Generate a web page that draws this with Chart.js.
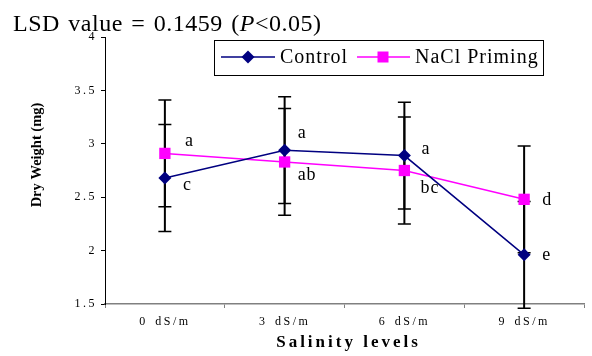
<!DOCTYPE html>
<html>
<head>
<meta charset="utf-8">
<script src="https://cdn.jsdelivr.net/npm/chart.js@4"></script>
<style>
  html, body { margin: 0; padding: 0; background: #fff; }
  canvas { display: block; }
</style>
</head>
<body>
<canvas id="chart" width="592" height="356"></canvas>
<script>
// Dry weight of seedlings under salinity, with and without NaCl priming
const salinity = ['0 dS/m', '3 dS/m', '6 dS/m', '9 dS/m'];
const control = [2.68, 2.94, 2.89, 1.96];
const naclPriming = [2.91, 2.83, 2.75, 2.48];
const controlErr = [0.5, 0.5, 0.5, 0.5];
const naclErr = [0.5, 0.5, 0.5, 0.5];
const controlLetters = ['c', 'a', 'a', 'e'];
const naclLetters = ['a', 'ab', 'bc', 'd'];
const yTicks = [1.5, 2, 2.5, 3, 3.5, 4];

const SERIF = '"Liberation Serif", "Times New Roman", serif';

// where each significance letter sits, relative to its point (left edge, baseline)
const letterOffsets = [
  [[18, 12], [13, -12], [17, -2], [18, 5]],   // control
  [[20, -7], [13, 18], [16, 22], [18, 6]]     // NaCl priming
];

const errorBars = {
  id: 'errorBars',
  beforeDatasetsDraw(chart) {
    const ctx = chart.ctx;
    ctx.letterSpacing = '0px';
    ctx.wordSpacing = '0px';
    const y = chart.scales.y;
    const errs = [controlErr, naclErr];
    ctx.save();
    ctx.strokeStyle = '#000';
    chart.data.datasets.forEach((ds, di) => {
      chart.getDatasetMeta(di).data.forEach((pt, i) => {
        const top = y.getPixelForValue(ds.data[i] + errs[di][i]);
        const bot = y.getPixelForValue(ds.data[i] - errs[di][i]);
        ctx.lineWidth = 2;
        ctx.beginPath();
        ctx.moveTo(pt.x, top);
        ctx.lineTo(pt.x, bot);
        ctx.stroke();
        ctx.lineWidth = 1.5;
        ctx.beginPath();
        ctx.moveTo(pt.x - 6.5, top); ctx.lineTo(pt.x + 6.5, top);
        ctx.moveTo(pt.x - 6.5, bot); ctx.lineTo(pt.x + 6.5, bot);
        ctx.stroke();
      });
    });
    ctx.restore();
  }
};

const annotations = {
  id: 'annotations',
  beforeDraw(chart) {
    // spaced-out tick lettering
    chart.ctx.letterSpacing = '2.5px';
    chart.ctx.wordSpacing = '2px';
  },
  afterDraw(chart) {
    const ctx = chart.ctx;
    const area = chart.chartArea;
    ctx.save();
    ctx.fillStyle = '#000';

    // LSD note in the top-left corner
    ctx.textBaseline = 'alphabetic';
    ctx.textAlign = 'left';
    ctx.letterSpacing = '0.5px';
    ctx.wordSpacing = '2px';
    let x = 13;
    [['LSD value = 0.1459 (', ''], ['P', 'italic '], ['<0.05)', '']].forEach(([t, st]) => {
      ctx.font = st + '24px ' + SERIF;
      ctx.fillText(t, x, 31);
      x += ctx.measureText(t).width;
    });
    ctx.wordSpacing = '0px';

    // significance letters
    ctx.font = '18px ' + SERIF;
    ctx.letterSpacing = '1px';
    [controlLetters, naclLetters].forEach((letters, di) => {
      chart.getDatasetMeta(di).data.forEach((pt, i) => {
        const [dx, dy] = letterOffsets[di][i];
        ctx.fillText(letters[i], pt.x + dx, pt.y + dy);
      });
    });

    // axis titles
    ctx.textAlign = 'center';
    ctx.textBaseline = 'middle';
    ctx.font = 'bold 17px ' + SERIF;
    ctx.letterSpacing = '3px';
    ctx.fillText('Salinity levels', (area.left + area.right) / 2 + 4, 343);
    ctx.save();
    ctx.translate(37, 155);
    ctx.rotate(-Math.PI / 2);
    ctx.font = 'bold 14.5px ' + SERIF;
    ctx.letterSpacing = '0px';
    ctx.fillText('Dry Weight (mg)', 0, 0);
    ctx.restore();

    // legend box
    ctx.letterSpacing = '1px';
    ctx.strokeStyle = '#000';
    ctx.lineWidth = 1;
    ctx.strokeRect(214.5, 40.5, 329, 35);
    const entries = [
      { x0: 221, x1: 275, mx: 248, text: 'Control' },
      { x0: 357, x1: 410, mx: 383, text: 'NaCl Priming' }
    ];
    ctx.textAlign = 'left';
    ctx.font = '20px ' + SERIF;
    entries.forEach((e, di) => {
      const ds = chart.data.datasets[di];
      const ly = 57;
      ctx.strokeStyle = ds.borderColor;
      ctx.lineWidth = 1.5;
      ctx.beginPath();
      ctx.moveTo(e.x0, ly);
      ctx.lineTo(e.x1, ly);
      ctx.stroke();
      ctx.fillStyle = ds.backgroundColor;
      ctx.beginPath();
      if (ds.pointStyle === 'rectRot') {
        ctx.moveTo(e.mx - 6.5, ly); ctx.lineTo(e.mx, ly - 6.5);
        ctx.lineTo(e.mx + 6.5, ly); ctx.lineTo(e.mx, ly + 6.5);
        ctx.closePath();
      } else {
        ctx.rect(e.mx - 5.5, ly - 5.5, 11, 11);
      }
      ctx.fill();
      ctx.fillStyle = '#000';
      ctx.fillText(e.text, e.x1 + 5, ly + 1);
    });
    ctx.restore();
  }
};

new Chart(document.getElementById('chart'), {
  type: 'line',
  data: {
    labels: salinity,
    datasets: [
      {
        label: 'Control',
        data: control,
        borderColor: '#000080',
        backgroundColor: '#000080',
        borderWidth: 1.5,
        pointStyle: 'rectRot',
        pointRadius: 6.5,
        pointBorderWidth: 0,
        tension: 0
      },
      {
        label: 'NaCl Priming',
        data: naclPriming,
        borderColor: '#FF00FF',
        backgroundColor: '#FF00FF',
        borderWidth: 1.5,
        pointStyle: 'rect',
        pointRadius: 8,
        pointBorderWidth: 0,
        tension: 0
      }
    ]
  },
  options: {
    responsive: false,
    animation: false,
    events: [],
    layout: { padding: { top: 37, right: 0, left: 0, bottom: 0 } },
    plugins: {
      legend: { display: false },
      tooltip: { enabled: false }
    },
    scales: {
      x: {
        offset: true,
        grid: {
          offset: true,
          drawOnChartArea: false,
          tickLength: 4,
          color: '#808080'
        },
        border: { color: '#808080', width: 1.5 },
        ticks: {
          color: '#000',
          padding: 7,
          font: { family: SERIF, size: 12 }
        },
        afterFit(scale) { scale.height = 52; }
      },
      y: {
        min: 1.5,
        max: 4,
        afterBuildTicks(scale) {
          scale.ticks = yTicks.map(v => ({ value: v }));
        },
        grid: {
          drawOnChartArea: false,
          tickLength: 4,
          color: '#000'
        },
        border: { color: '#000', width: 1 },
        ticks: {
          color: '#000',
          padding: 4,
          font: { family: SERIF, size: 12 },
          callback: v => String(v)
        },
        afterFit(scale) { scale.width = 105; }
      }
    }
  },
  plugins: [errorBars, annotations]
});
</script>
</body>
</html>
